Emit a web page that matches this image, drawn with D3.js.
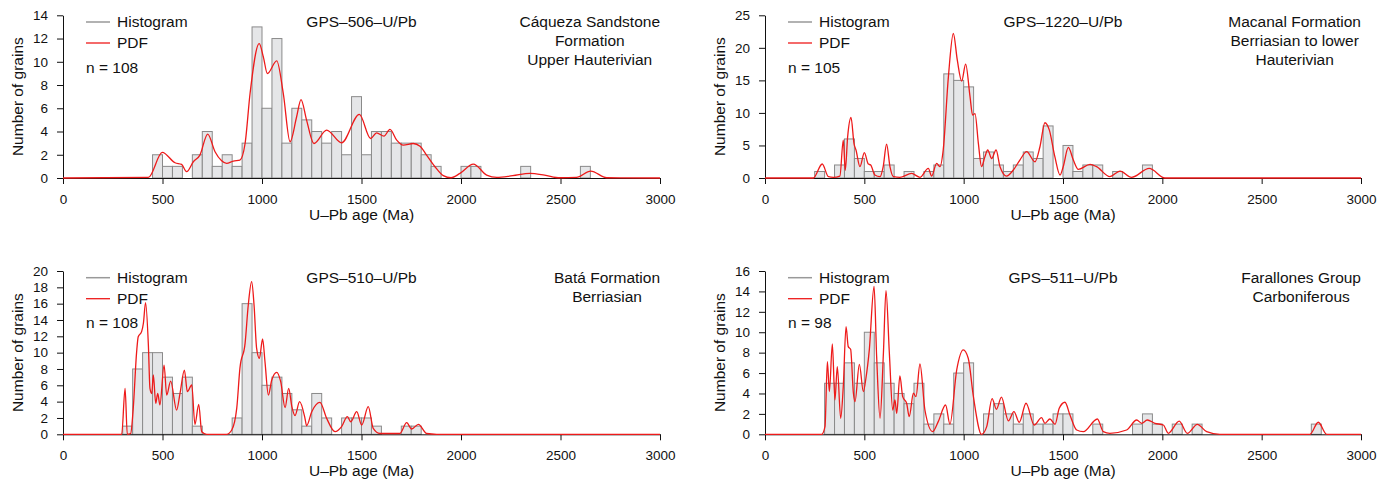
<!DOCTYPE html>
<html><head><meta charset="utf-8">
<script src="https://cdn.jsdelivr.net/npm/d3@7"></script>
<style>body{margin:0;background:#fff;}svg{display:block;}text{font-family:"Liberation Sans",Arial,Helvetica,sans-serif;fill:#111;}</style>
</head><body>
<svg id="chart" width="1390" height="491"></svg>
<script>
// ---- DATA ----
const xTicks = [0,500,1000,1500,2000,2500,3000];
const binWidth = 50;

// GPS-506
const hist506Start = [450,500,550,650,700,750,800,850,900,950,1000,1050,1100,1150,1200,1250,1300,1350,1400,1450,1500,1550,1600,1650,1700,1750,1800,1850,2000,2050,2300,2600];
const hist506Count = [2,1,1,2,4,1,2,1,3,13,6,12,3,6,5,4,3,4,2,7,2,4,4,3,3,3,2,1,1,1,1,1];
const pdf506 = [[0,0],[429,0.05],[499,2.2],[563,1.31],[596,1.17],[621,0.54],[655,1.4],[688,1.97],[727,3.78],[764,2.26],[797,1.48],[822,1.26],[856,1.46],[889,1.54],[915,2.97],[940,7.27],[986,11.57],[1007,10.4],[1027,8.99],[1074,10.08],[1107,7.27],[1141,3.12],[1174,5.27],[1196,6.75],[1224,4.98],[1261,2.97],[1325,4.12],[1400,3.03],[1489,5.47],[1546,3.4],[1576,3.89],[1613,3.6],[1643,4.18],[1677,3.26],[1710,2.83],[1760,2.97],[1794,2.74],[1827,1.97],[1869,0.97],[1911,0.2],[1950,0.02],[1995,0.4],[2062,1.2],[2129,0.25],[2180,0.05],[2260,0.2],[2347,0.4],[2420,0.25],[2497,0.02],[2580,0.05],[2652,0.6],[2732,0.02],[3000,0]];

// GPS-1220
const hist1220Start = [250,350,400,450,500,550,600,700,800,850,900,950,1000,1050,1100,1150,1200,1250,1300,1350,1400,1500,1550,1600,1650,1750,1900];
const hist1220Count = [1,2,6,3,1,1,2,1,1,2,16,15,14,3,4,2,1,2,4,3,8,5,1,2,2,1,2];
const pdf1220 = [[0,0],[243,0],[288,2.15],[319,0.2],[344,0.1],[377,0.3],[394,5.83],[404,1.2],[416,6.34],[433,9.3],[448,5.3],[458,4.3],[478,1.74],[500,3.9],[520,2.15],[532,2.0],[553,0.46],[579,0.2],[595,1.74],[612,5.22],[629,1.74],[646,0.2],[679,0.1],[738,0.7],[780,0.1],[822,1.48],[839,0.3],[864,2.25],[881,1.74],[897,4.3],[923,15.5],[948,22.2],[968,18.1],[990,14.9],[1010,17.5],[1032,12.5],[1045,9.66],[1057,9.9],[1074,5.32],[1090,1.74],[1107,3.27],[1121,4.3],[1141,3.0],[1163,4.3],[1183,1.74],[1216,0.3],[1250,1.23],[1283,2.76],[1317,4.04],[1359,2.5],[1384,4.8],[1409,8.49],[1431,7.4],[1459,3.27],[1485,0.46],[1501,1.74],[1527,4.7],[1552,2.76],[1577,1.33],[1636,2.1],[1669,1.74],[1736,0.2],[1787,1.07],[1845,0.1],[1934,1.48],[2013,0],[3000,0]];

// GPS-510
const hist510Start = [300,350,400,450,500,550,600,650,850,900,950,1000,1050,1100,1150,1200,1250,1300,1400,1450,1500,1550,1700,1750];
const hist510Count = [1,8,10,10,7,5,7,1,2,16,10,6,7,5,3,1,5,2,2,2,2,1,1,1];
const pdf510 = [[0,0],[295,0],[312,5.63],[323,0],[340,0.1],[353,3.18],[370,10.1],[378,11.95],[395,12.57],[404,13.6],[415,16.12],[429,10.93],[437,5.63],[446,5.0],[454,7.26],[466,3.79],[476,5.0],[487,3.6],[508,8.48],[521,4.81],[541,6.52],[571,2.97],[588,5.0],[610,7.87],[625,5.22],[647,6.04],[663,1.22],[682,3.67],[697,0.32],[722,0],[822,0],[848,0.53],[873,3.18],[889,8.08],[915,11.14],[931,15.83],[948,18.69],[960,15.83],[973,10.53],[987,9.3],[1003,11.67],[1015,8.89],[1032,4.81],[1049,6.65],[1074,7.59],[1094,6.44],[1116,3.26],[1134,5.63],[1150,3.4],[1166,2.3],[1189,4.0],[1216,1.95],[1224,1.05],[1250,2.77],[1291,3.91],[1325,1.95],[1367,0.32],[1400,0.93],[1429,2.16],[1446,1.54],[1476,2.77],[1501,1.14],[1534,3.38],[1559,0.73],[1593,0.1],[1693,0.1],[1727,1.42],[1752,0.65],[1786,1.22],[1827,0.1],[1878,0],[3000,0]];

// GPS-511
const hist511Start = [300,350,400,450,500,550,600,650,700,750,800,850,900,950,1000,1100,1150,1200,1250,1300,1350,1400,1450,1500,1650,1850,1900,1950,2050,2150,2750];
const hist511Count = [5,5,7,5,10,7,5,4,3,5,1,2,1,6,7,2,3,2,1,2,1,1,2,2,1,1,2,1,1,1,1];
const pdf511 = [[0,0],[285,0],[302,0.75],[314,7.12],[324,4.18],[339,8.86],[352,3.37],[364,6.63],[381,1.57],[394,4.67],[408,10.55],[419,8.59],[431,8.33],[445,4.02],[453,3.2],[475,6.86],[495,4.18],[508,5.49],[525,8.27],[549,14.48],[562,7.61],[579,1.57],[596,7.94],[609,14.08],[626,7.94],[643,2.38],[654,3.37],[663,2.06],[679,5.72],[693,3.69],[713,3.04],[726,1.73],[747,4.02],[760,3.69],[780,6.89],[805,2.38],[844,0.26],[872,1.24],[909,2.87],[931,1.0],[965,6.31],[998,8.27],[1023,7.45],[1049,3.69],[1090,0],[1116,0.75],[1143,3.5],[1165,2.45],[1190,3.65],[1225,1.31],[1253,2.22],[1280,1.18],[1314,3.04],[1355,0.91],[1392,1.63],[1409,1.08],[1434,1.5],[1460,0.98],[1481,2.55],[1510,3.14],[1535,1.89],[1569,0.42],[1602,0.26],[1673,1.5],[1703,0.26],[1736,0.1],[1820,0.42],[1871,1.4],[1896,1.08],[1924,1.4],[1963,1.08],[2005,0.91],[2030,0.1],[2085,1.3],[2126,0.1],[2176,0.98],[2223,0.26],[2290,0],[2743,0],[2785,1.18],[2827,0],[3000,0]];

const sampleNames = ["GPS–506–U/Pb","GPS–1220–U/Pb","GPS–510–U/Pb","GPS–511–U/Pb"];
const sampleN = [108,105,108,98];
const unitLabels = [["Cáqueza Sandstone","Formation","Upper Hauterivian"],["Macanal Formation","Berriasian to lower","Hauterivian"],["Batá Formation","Berriasian"],["Farallones Group","Carboniferous"]];
const yMax = [14,25,20,16];
const yStep = [2,5,2,2];

// ---- LAYOUT ----
const panels = [
  {left:63, right:660, top:15.3, bottom:178, hs:hist506Start, hc:hist506Count, pdf:pdf506},
  {left:765, right:1361, top:15.3, bottom:178, hs:hist1220Start, hc:hist1220Count, pdf:pdf1220},
  {left:63, right:660, top:271, bottom:434.3, hs:hist510Start, hc:hist510Count, pdf:pdf510},
  {left:765, right:1361, top:271, bottom:434.3, hs:hist511Start, hc:hist511Count, pdf:pdf511}
];

const svg = d3.select("#chart");
const RED = "#ee1a1a";
const FS = 15.5, TFS = 13.5;

panels.forEach((p,i)=>{
  const g = svg.append("g");
  const x = d3.scaleLinear().domain([0,3000]).range([p.left,p.right]);
  const y = d3.scaleLinear().domain([0,yMax[i]]).range([p.bottom,p.top]);
  const bins = p.hs.map((s,k)=>({s:s,c:p.hc[k]}));
  g.selectAll("rect.bar").data(bins).join("rect").attr("class","bar")
    .attr("x",d=>x(d.s)).attr("width",d=>x(d.s+binWidth)-x(d.s))
    .attr("y",d=>y(d.c)).attr("height",d=>y(0)-y(d.c))
    .attr("fill","#e5e6e8").attr("stroke","#8a8a8a").attr("stroke-width",1);

  const xa = g.append("g").attr("transform",`translate(0,${p.bottom})`)
    .call(d3.axisBottom(x).tickValues(xTicks).tickSize(6).tickSizeOuter(0).tickPadding(10).tickFormat(d3.format("d")));
  const yTicks = d3.range(0,yMax[i]+0.001,yStep[i]);
  const ya = g.append("g").attr("transform",`translate(${p.left},0)`)
    .call(d3.axisLeft(y).tickValues(yTicks).tickSize(6).tickSizeOuter(0).tickPadding(9));
  [xa,ya].forEach(a=>{
    a.selectAll("text").attr("font-size",TFS).attr("font-family",null).style("fill","#111");
    a.selectAll("line,path").attr("stroke","#111").attr("stroke-width",1);
  });

  const line = d3.line().x(d=>x(d[0])).y(d=>y(d[1])).curve(d3.curveMonotoneX);
  g.append("path").datum(p.pdf).attr("d",line).attr("fill","none").attr("stroke",RED).attr("stroke-width",1.3);

  // axis titles
  g.append("text").attr("x",(p.left+p.right)/2).attr("y",p.bottom+42).attr("text-anchor","middle").attr("font-size",FS).text("U–Pb age (Ma)");
  const cy = (p.top+p.bottom)/2;
  g.append("text").attr("transform",`translate(${p.left-40},${cy}) rotate(-90)`).attr("text-anchor","middle").attr("font-size",FS).text("Number of grains");

  // legend
  const lx = p.left+23;
  g.append("line").attr("x1",lx).attr("x2",lx+24).attr("y1",p.top+6.7).attr("y2",p.top+6.7).attr("stroke","#999").attr("stroke-width",1.5);
  g.append("text").attr("x",lx+31).attr("y",p.top+6.7).attr("dy","0.35em").attr("font-size",FS).text("Histogram");
  g.append("line").attr("x1",lx).attr("x2",lx+24).attr("y1",p.top+27.7).attr("y2",p.top+27.7).attr("stroke",RED).attr("stroke-width",1.3);
  g.append("text").attr("x",lx+31).attr("y",p.top+27.7).attr("dy","0.35em").attr("font-size",FS).text("PDF");
  g.append("text").attr("x",lx).attr("y",p.top+52).attr("dy","0.35em").attr("font-size",FS).text("n = "+sampleN[i]);

  // title
  g.append("text").attr("x",(p.left+p.right)/2).attr("y",p.top+6.7).attr("dy","0.35em").attr("text-anchor","middle").attr("font-size",FS).text(sampleNames[i]);

  // unit label block, right aligned block with centered lines
  const lab = g.append("g");
  const ts = unitLabels[i].map((t,k)=>lab.append("text").attr("y",p.top+6.5+k*18.7).attr("dy","0.35em").attr("text-anchor","middle").attr("font-size",FS).text(t));
  const maxW = d3.max(ts,t=>t.node().getComputedTextLength());
  ts.forEach(t=>t.attr("x",p.right-maxW/2));
});
</script>
</body></html>
